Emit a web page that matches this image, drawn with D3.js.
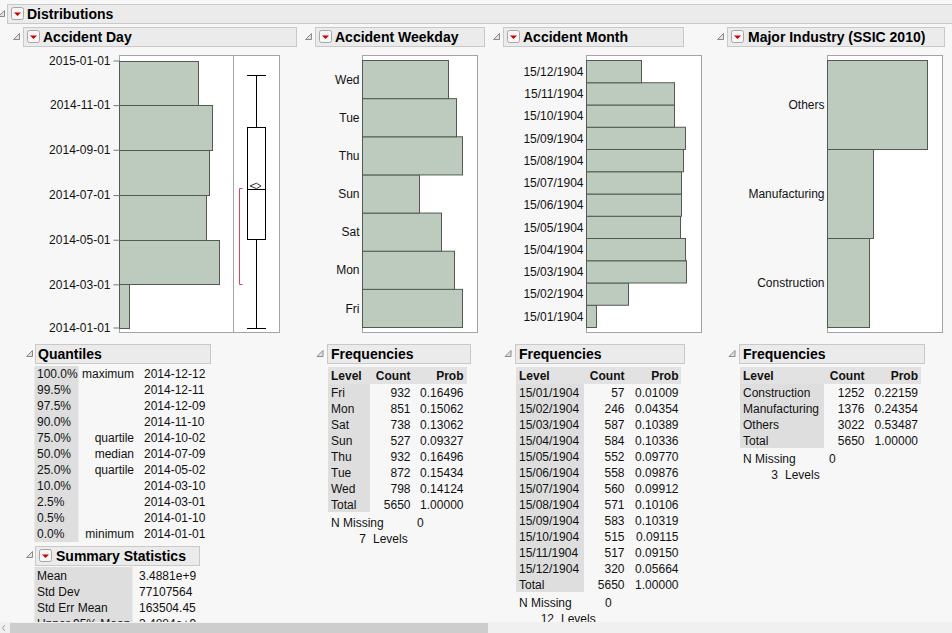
<!DOCTYPE html>
<html>
<head>
<meta charset="utf-8">
<script src="https://cdn.jsdelivr.net/npm/d3@7"></script>
<style>
  body { margin: 0; background: #f7f7f7; overflow: hidden; }
  svg text { font-family: "Liberation Sans", Arial, sans-serif; font-size: 12px; fill: #111; }
  svg text.head { font-weight: bold; font-size: 14px; fill: #000; }
  svg text.colhead { font-weight: bold; }
</style>
</head>
<body>
<script>
// ---- data ----
const dayBinStarts = ["2014-01-01", "2014-03-01", "2014-05-01", "2014-07-01", "2014-09-01", "2014-11-01"];
const dayBinEnd = "2015-01-01";
const dayBinCounts = [125, 1230, 1075, 1110, 1150, 975];

const quantilePcts = ["100.0%", "99.5%", "97.5%", "90.0%", "75.0%", "50.0%", "25.0%", "10.0%", "2.5%", "0.5%", "0.0%"];
const quantileNames = ["maximum", "", "", "", "quartile", "median", "quartile", "", "", "", "minimum"];
const quantileDates = ["2014-12-12", "2014-12-11", "2014-12-09", "2014-11-10", "2014-10-02", "2014-07-09", "2014-05-02", "2014-03-10", "2014-03-01", "2014-01-10", "2014-01-01"];
const shortestHalf = ["2014-03-01", "2014-07-11"];

const summaryLabels = ["Mean", "Std Dev", "Std Err Mean", "Upper 95% Mean"];
const summaryValues = ["3.4881e+9", "77107564", "163504.45", "3.4884e+9"];
const meanSeconds = 3.4881e9;     // JMP seconds since 1904-01-01
const stdErrSeconds = 163504.45;

const weekdays = ["Fri", "Mon", "Sat", "Sun", "Thu", "Tue", "Wed"];
const weekdayCounts = [932, 851, 738, 527, 932, 872, 798];
const weekdayProbs = ["0.16496", "0.15062", "0.13062", "0.09327", "0.16496", "0.15434", "0.14124"];

const months = ["15/01/1904", "15/02/1904", "15/03/1904", "15/04/1904", "15/05/1904", "15/06/1904",
                "15/07/1904", "15/08/1904", "15/09/1904", "15/10/1904", "15/11/1904", "15/12/1904"];
const monthCounts = [57, 246, 587, 584, 552, 558, 560, 571, 583, 515, 517, 320];
const monthProbs = ["0.01009", "0.04354", "0.10389", "0.10336", "0.09770", "0.09876",
                    "0.09912", "0.10106", "0.10319", "0.09115", "0.09150", "0.05664"];

const industries = ["Construction", "Manufacturing", "Others"];
const industryCounts = [1252, 1376, 3022];
const industryProbs = ["0.22159", "0.24354", "0.53487"];

const totalCount = 5650;
const nMissing = 0;

// ---- drawing ----
const width = 952, height = 633;
const barFill = "#bccbbd", barStroke = "#525a52";

const svg = d3.select("body").append("svg")
    .attr("width", width)
    .attr("height", height);

const parse = d3.utcParse("%Y-%m-%d");

function disclosure(x, y) {
  svg.append("path")
      .attr("d", `M${x},${y + 6}L${x + 6},${y + 6}L${x + 6},${y}Z`)
      .attr("fill", "#e2e2e2")
      .attr("stroke", "#8a8a8a");
}

function menuButton(x, y) {
  svg.append("rect")
      .attr("x", x).attr("y", y).attr("width", 12).attr("height", 12)
      .attr("rx", 2)
      .attr("fill", "#f6f6f6")
      .attr("stroke", "#a6a6a6");
  svg.append("path")
      .attr("d", `M${x + 2.5},${y + 5}L${x + 9.5},${y + 5}L${x + 6},${y + 8.5}Z`)
      .attr("fill", "#cc0000");
}

function titleBar(x, y, w, label, textX, withButton) {
  svg.append("rect")
      .attr("x", x).attr("y", y).attr("width", w).attr("height", 19)
      .attr("fill", "#ebebeb")
      .attr("stroke", "#c9c9c9");
  if (withButton) menuButton(x + 4, y + 3);
  svg.append("text").attr("class", "head")
      .attr("x", textX).attr("y", y + 14.5)
      .text(label);
}

// outline headers
disclosure(-1.5, 10.5);
titleBar(7.5, 4.5, 960, "Distributions", 27, true);

disclosure(13.5, 33.5);
titleBar(23.5, 27.5, 273, "Accident Day", 43, true);
disclosure(305.5, 33.5);
titleBar(315.5, 27.5, 169, "Accident Weekday", 335, true);
disclosure(493.5, 33.5);
titleBar(503.5, 27.5, 180, "Accident Month", 523, true);
disclosure(717.5, 33.5);
titleBar(727.5, 27.5, 217, "Major Industry (SSIC 2010)", 748, true);

// ---- Accident Day: histogram + box plot ----
const dayY = d3.scaleUtc()
    .domain([parse(dayBinStarts[0]), parse(dayBinEnd)])
    .range([327.5, 60.5]);
const dayX = d3.scaleLinear().domain([0, 1390]).range([119.5, 232.5]);

svg.append("rect")
    .attr("x", 119.5).attr("y", 55.5).attr("width", 160).attr("height", 277)
    .attr("fill", "#fff").attr("stroke", "#a4a4a4");
svg.append("line")
    .attr("x1", 233.5).attr("x2", 233.5).attr("y1", 55.5).attr("y2", 332.5)
    .attr("stroke", "#a4a4a4");

const dayBins = dayBinStarts.map((s, i) => ({
  start: parse(s),
  end: parse(i + 1 < dayBinStarts.length ? dayBinStarts[i + 1] : dayBinEnd),
  count: dayBinCounts[i]
}));

svg.append("g").selectAll("rect")
    .data(dayBins)
    .join("rect")
    .attr("x", dayX(0))
    .attr("y", d => Math.round(dayY(d.end)) + 0.5)
    .attr("width", d => Math.round(dayX(d.count) - dayX(0)))
    .attr("height", d => Math.round(dayY(d.start)) - Math.round(dayY(d.end)))
    .attr("fill", barFill)
    .attr("stroke", barStroke);

const dayAxis = svg.append("g")
    .attr("transform", "translate(119.5,0)")
    .call(d3.axisLeft(dayY)
        .ticks(d3.utcMonth.every(2))
        .tickFormat(d3.utcFormat("%Y-%m-%d"))
        .tickSize(6)
        .tickPadding(3));
dayAxis.select(".domain").remove();
dayAxis.selectAll(".tick line").attr("stroke", "#7a7a7a");
dayAxis.selectAll("text")
    .attr("font-family", "Liberation Sans, Arial, sans-serif")
    .attr("font-size", 12)
    .attr("fill", "#111");

// box plot
const bx = 256.5;
const qDate = name => parse(quantileDates[quantileNames.indexOf(name)]);
const qMax = parse(quantileDates[0]), qMin = parse(quantileDates[10]);
const q3 = parse(quantileDates[4]), med = parse(quantileDates[5]), q1 = parse(quantileDates[6]);
const yr = d => Math.round(dayY(d)) + 0.5;

const box = svg.append("g").attr("stroke", "#000").attr("fill", "none");
box.append("line").attr("x1", bx).attr("x2", bx).attr("y1", yr(qMax)).attr("y2", yr(q3));
box.append("line").attr("x1", bx).attr("x2", bx).attr("y1", yr(q1)).attr("y2", yr(qMin));
box.append("line").attr("x1", 247).attr("x2", 266).attr("y1", yr(qMax)).attr("y2", yr(qMax));
box.append("line").attr("x1", 247).attr("x2", 266).attr("y1", yr(qMin)).attr("y2", yr(qMin));
box.append("rect")
    .attr("x", 247.5).attr("y", yr(q3))
    .attr("width", 18).attr("height", yr(q1) - yr(q3))
    .attr("fill", "#fff");
box.append("line").attr("x1", 247.5).attr("x2", 265.5).attr("y1", yr(med)).attr("y2", yr(med));

// mean diamond (95% CI of the mean)
const epoch1904 = Date.UTC(1904, 0, 1);
const meanDate = new Date(epoch1904 + meanSeconds * 1000);
const ciHigh = new Date(epoch1904 + (meanSeconds + 1.96 * stdErrSeconds) * 1000);
const ciLow = new Date(epoch1904 + (meanSeconds - 1.96 * stdErrSeconds) * 1000);
box.append("path")
    .attr("d", `M250,${dayY(meanDate)}L${bx},${dayY(ciHigh)}L261,${dayY(meanDate)}L${bx},${dayY(ciLow)}Z`)
    .attr("stroke", "#333");

// shortest half bracket
svg.append("path")
    .attr("d", `M242.5,${yr(parse(shortestHalf[1]))}H239.5V${yr(parse(shortestHalf[0]))}H242.5`)
    .attr("fill", "none")
    .attr("stroke", "#d8465c");

// ---- categorical histograms ----
function catHistogram(levels, counts, x0, maxCount, labelRight) {
  svg.append("rect")
      .attr("x", x0).attr("y", 55.5).attr("width", 115).attr("height", 277)
      .attr("fill", "#fff").attr("stroke", "#a4a4a4");
  const y = d3.scaleBand().domain(levels).range([327.5, 60.5]);
  const x = d3.scaleLinear().domain([0, maxCount]).range([x0, x0 + 115]);
  svg.append("g").selectAll("rect")
      .data(levels)
      .join("rect")
      .attr("x", x0)
      .attr("y", d => y(d))
      .attr("width", (d, i) => Math.round(x(counts[i]) - x0))
      .attr("height", y.bandwidth())
      .attr("fill", barFill)
      .attr("stroke", barStroke);
  svg.append("g").selectAll("text")
      .data(levels)
      .join("text")
      .attr("x", labelRight)
      .attr("y", d => y(d) + y.bandwidth() / 2)
      .attr("dy", "0.35em")
      .attr("text-anchor", "end")
      .text(d => d);
}

catHistogram(weekdays, weekdayCounts, 362.5, 1068, 359.5);
catHistogram(months, monthCounts, 586.5, 675, 583.5);
catHistogram(industries, industryCounts, 827.5, 3464, 824.5);

// ---- Quantiles ----
disclosure(26.5, 350.5);
titleBar(35.5, 344.5, 175, "Quantiles", 38, false);
svg.append("rect").attr("x", 34.5).attr("y", 366).attr("width", 44).attr("height", 176).attr("fill", "#dedede");
quantilePcts.forEach((p, i) => {
  const yb = 378 + 16 * i;
  svg.append("text").attr("x", 37).attr("y", yb).text(p);
  if (quantileNames[i]) svg.append("text").attr("x", 134).attr("y", yb).attr("text-anchor", "end").text(quantileNames[i]);
  svg.append("text").attr("x", 144).attr("y", yb).text(quantileDates[i]);
});

// ---- Summary Statistics ----
disclosure(26.5, 551.5);
titleBar(35.5, 546.5, 164, "Summary Statistics", 56, true);
svg.append("rect").attr("x", 34.5).attr("y", 567).attr("width", 98).attr("height", 70).attr("fill", "#dedede");
summaryLabels.forEach((s, i) => {
  const yb = 580 + 16 * i;
  svg.append("text").attr("x", 37).attr("y", yb).text(s);
  svg.append("text").attr("x", 139).attr("y", yb).text(summaryValues[i]);
});

// ---- Frequencies tables ----
function freqTable(levels, counts, probs, o) {
  disclosure(o.left - 10, 350.5);
  titleBar(o.left + 0.5, 344.5, o.boxW, "Frequencies", o.left + 4, false);
  svg.append("rect").attr("x", o.left + 1).attr("y", 367).attr("width", o.bandW).attr("height", 17).attr("fill", "#e2e2e2");
  const n = levels.length + 1;
  svg.append("rect").attr("x", o.left + 1).attr("y", 384).attr("width", o.greyW).attr("height", 16 * n).attr("fill", "#dedede");
  const lx = o.left + 4;
  svg.append("text").attr("class", "colhead").attr("x", lx).attr("y", 380).text("Level");
  svg.append("text").attr("class", "colhead").attr("x", o.countR).attr("y", 380).attr("text-anchor", "end").text("Count");
  svg.append("text").attr("class", "colhead").attr("x", o.probR).attr("y", 380).attr("text-anchor", "end").text("Prob");
  const rows = levels.map((l, i) => [l, counts[i], probs[i]]).concat([["Total", totalCount, "1.00000"]]);
  rows.forEach((r, i) => {
    const yb = 396.5 + 16 * i;
    svg.append("text").attr("x", lx).attr("y", yb).text(r[0]);
    svg.append("text").attr("x", o.countR).attr("y", yb).attr("text-anchor", "end").text(r[1]);
    svg.append("text").attr("x", o.probR).attr("y", yb).attr("text-anchor", "end").text(r[2]);
  });
  const yEnd = 384 + 16 * n;
  svg.append("text").attr("x", lx).attr("y", yEnd + 15).text("N Missing");
  svg.append("text").attr("x", lx + 86).attr("y", yEnd + 15).text(nMissing);
  svg.append("text").attr("x", lx + 35).attr("y", yEnd + 31).attr("text-anchor", "end").text(levels.length);
  svg.append("text").attr("x", lx + 42).attr("y", yEnd + 31).text("Levels");
}

freqTable(weekdays, weekdayCounts, weekdayProbs, { left: 327, boxW: 143, bandW: 139, greyW: 42, countR: 410.5, probR: 463.5 });
freqTable(months, monthCounts, monthProbs, { left: 515, boxW: 169, bandW: 165, greyW: 68, countR: 624.5, probR: 678.5 });
freqTable(industries, industryCounts, industryProbs, { left: 739, boxW: 185, bandW: 181, greyW: 84, countR: 864.5, probR: 918 });

// ---- horizontal scrollbar ----
svg.append("rect").attr("x", 0).attr("y", 622).attr("width", width).attr("height", 11).attr("fill", "#f0f0f0");
svg.append("rect").attr("x", 10).attr("y", 623).attr("width", 478).attr("height", 10).attr("fill", "#cdcdcd");
svg.append("path").attr("d", "M5,625L2.5,628L5,631").attr("fill", "none").attr("stroke", "#a0a0a0");
</script>
</body>
</html>
